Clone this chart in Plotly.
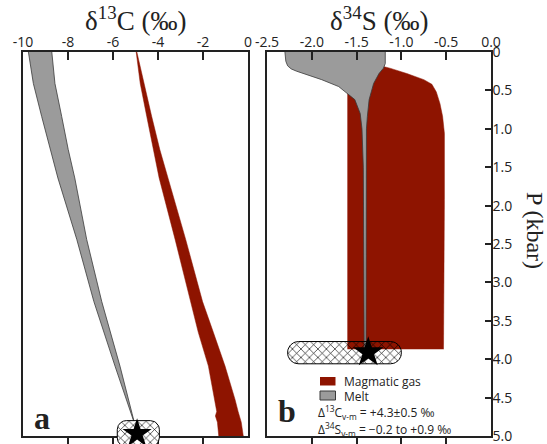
import math
import plotly.graph_objects as go

# ---------------- data ----------------
# Panel a: delta13C (permil) vs pressure (kbar)
a_melt_P = [0.0, 0.41, 0.84, 1.27, 1.64, 2.44, 3.25, 4.09, 4.71, 4.85]
a_melt_left = [-9.76, -9.54, -9.17, -8.80, -8.45, -7.61, -6.85, -5.91, -5.20, -5.06]
a_melt_right = [-8.72, -8.58, -8.28, -7.99, -7.70, -7.17, -6.50, -5.69, -5.15, -5.03]

a_gas_P = [0.0, 0.41, 0.84, 1.27, 1.64, 2.44, 3.25, 3.65, 4.09, 4.52, 4.68, 4.74, 4.82, 5.0]
a_gas_left = [-4.97, -4.79, -4.50, -4.21, -3.95, -3.24, -2.55, -2.21, -1.76, -1.47, -1.39, -1.45, -1.36, -1.30]
a_gas_right = [-4.94, -4.63, -4.28, -3.92, -3.58, -2.77, -2.02, -1.54, -1.02, -0.58, -0.44, -0.40, -0.30, -0.21]

a_star = (-4.93, 4.97)
a_box = (-5.81, -3.94, 4.80, 5.14)

# Panel b: delta34S (permil) vs pressure (kbar)
b_melt_left_P = [0.0, 0.12, 0.18, 0.22, 0.25, 0.28, 0.36, 0.45, 0.54, 0.62, 0.80, 1.00, 1.50, 3.90]
b_melt_left = [-2.30, -2.29, -2.27, -2.23, -2.17, -2.09, -1.89, -1.70, -1.60, -1.52, -1.46, -1.44, -1.425, -1.415]
b_melt_right_P = [3.90, 1.50, 1.00, 0.84, 0.62, 0.41, 0.28, 0.21, 0.15, 0.0]
b_melt_right = [-1.395, -1.395, -1.39, -1.38, -1.36, -1.31, -1.25, -1.20, -1.18, -1.18]

b_gas_P = [3.87, 0.54, 0.35, 0.18, 0.19, 0.21, 0.28, 0.36, 0.42, 0.52, 0.67, 0.84, 1.06, 1.92, 3.87]
b_gas_x = [-1.60, -1.60, -1.45, -1.28, -1.20, -1.13, -0.94, -0.75, -0.66, -0.61, -0.57, -0.54, -0.52, -0.52, -0.53]

b_star = (-1.37, 3.91)
b_box = (-2.27, -1.00, 3.77, 4.06)

a_ticks = [-10, -8, -6, -4, -2, 0]
a_ticktext = ["-10", "-8", "-6", "-4", "-2", "0"]
b_ticks = [-2.5, -2.0, -1.5, -1.0, -0.5, 0.0]
b_ticktext = ["-2.5", "-2.0", "-1.5", "-1.0", "-0.5", "0.0"]
p_ticks = [0, 0.5, 1.0, 1.5, 2.0, 2.5, 3.0, 3.5, 4.0, 4.5, 5.0]
p_ticktext = ["0", "0.5", "1.0", "1.5", "2.0", "2.5", "3.0", "3.5", "4.0", "4.5", "5.0"]

legend_names = ["Magmatic gas", "Melt"]
note_lines = ["Δ<sup>13</sup>C<sub>v-m</sub> = +4.3±0.5 ‰",
              "Δ<sup>34</sup>S<sub>v-m</sub> = −0.2 to +0.9 ‰"]

# ---------------- geometry ----------------
W, H = 547, 444
ML, MR, MT, MB = 23, 56, 52, 0
PW, PH = W - ML - MR, H - MT - MB
A_X0, A_X1 = 23, 248
B_X0, B_X1 = 267, 491
Y_BOT = 436  # pixel of P = 5
PX_PER_KBAR = (Y_BOT - MT) / 5.0
EXT_MAX = 5 + (H - Y_BOT) / PX_PER_KBAR


def fx(px):
    return (px - ML) / PW


def fy(py):
    return (H - py) / PH


RED = "#8E1400"
GRAY = "#9B9B9B"
EDGE = "#3a3a3a"
INK = "#222222"


def pill(box, ux, uy, rad_px, n=10):
    x0, x1, y0, y1 = box
    rx = rad_px / ux
    ry = rad_px / uy
    pts = []
    corners = [(x1 - rx, y0 + ry, -90), (x1 - rx, y1 - ry, 0),
               (x0 + rx, y1 - ry, 90), (x0 + rx, y0 + ry, 180)]
    for cx, cy, a0 in corners:
        for k in range(n + 1):
            t = math.radians(a0 + 90 * k / n)
            pts.append((cx + rx * math.cos(t), cy + ry * math.sin(t)))
    pts.append(pts[0])
    return [p[0] for p in pts], [p[1] for p in pts]


fig = go.Figure()

# panel a
fig.add_trace(go.Scatter(x=a_gas_left + a_gas_right[::-1], y=a_gas_P + a_gas_P[::-1],
                         fill="toself", fillcolor=RED, line=dict(color=RED, width=0.5),
                         mode="lines", xaxis="x", yaxis="y", hoverinfo="skip"))
fig.add_trace(go.Scatter(x=a_melt_left + a_melt_right[::-1], y=a_melt_P + a_melt_P[::-1],
                         fill="toself", fillcolor=GRAY, line=dict(color=EDGE, width=0.8),
                         mode="lines", xaxis="x", yaxis="y", hoverinfo="skip"))

# panel b
fig.add_trace(go.Scatter(x=b_gas_x, y=b_gas_P, fill="toself", fillcolor=RED,
                         line=dict(color=RED, width=0.5), mode="lines",
                         xaxis="x2", yaxis="y2", hoverinfo="skip"))
fig.add_trace(go.Scatter(x=b_melt_left + b_melt_right, y=b_melt_left_P + b_melt_right_P,
                         fill="toself", fillcolor=GRAY, line=dict(color=EDGE, width=0.8),
                         mode="lines", xaxis="x2", yaxis="y2", hoverinfo="skip"))
bx, by = pill(b_box, (B_X1 - B_X0) / 2.5, PX_PER_KBAR, 11)
fig.add_trace(go.Scatter(x=bx, y=by, fill="toself", fillcolor="rgba(0,0,0,0)",
                         fillpattern=dict(shape="x", fgcolor="black", bgcolor="rgba(0,0,0,0)",
                                          size=6, solidity=0.2),
                         line=dict(color="black", width=1), mode="lines",
                         xaxis="x2", yaxis="y2", hoverinfo="skip"))
fig.add_trace(go.Scatter(x=[b_star[0]], y=[b_star[1]], mode="markers",
                         marker=dict(symbol="star", size=23, color="black"),
                         cliponaxis=False, xaxis="x2", yaxis="y2", hoverinfo="skip"))

# bottom tick overlays
fig.add_trace(go.Scatter(x=[], y=[], xaxis="x3", yaxis="y"))
fig.add_trace(go.Scatter(x=[], y=[], xaxis="x4", yaxis="y2"))

# panel a box and star (extended axes so they can pass the frame)
ax_, ay_ = pill(a_box, (A_X1 - A_X0) / 10.0, PX_PER_KBAR, 9)
fig.add_trace(go.Scatter(x=ax_, y=ay_, fill="toself", fillcolor="white",
                         fillpattern=dict(shape="x", fgcolor="black", bgcolor="white",
                                          size=6, solidity=0.2),
                         line=dict(color="black", width=1), mode="lines",
                         xaxis="x5", yaxis="y5", hoverinfo="skip"))
fig.add_trace(go.Scatter(x=[a_star[0]], y=[a_star[1]], mode="markers",
                         marker=dict(symbol="star", size=22, color="black"),
                         cliponaxis=False, xaxis="x5", yaxis="y5", hoverinfo="skip"))

tickfont = dict(family="Open Sans", size=14, color=INK)
common = dict(showgrid=False, zeroline=False, showline=True, linecolor=INK, linewidth=1.5,
              mirror=True, tickcolor=INK, tickwidth=1.5, ticklabeloverflow="allow")
dom_a = [fx(A_X0), fx(A_X1)]
dom_b = [fx(B_X0), fx(B_X1)]
dom_y = [fy(Y_BOT), 1]

fig.update_layout(
    width=W, height=H, margin=dict(l=ML, r=MR, t=MT, b=MB),
    template="none", paper_bgcolor="white", plot_bgcolor="rgba(0,0,0,0)",
    showlegend=False,
    xaxis=dict(domain=dom_a, range=[-10, 0], side="top", anchor="y", tickvals=a_ticks,
               ticktext=a_ticktext, ticks="inside", ticklen=8, tickfont=tickfont,
               ticklabelstandoff=-2, **common),
    yaxis=dict(domain=dom_y, range=[5, 0], anchor="x", ticks="", showticklabels=False, **common),
    xaxis2=dict(domain=dom_b, range=[-2.5, 0], side="top", anchor="y2", tickvals=b_ticks,
                ticktext=b_ticktext, ticks="inside", ticklen=8, tickfont=tickfont,
                ticklabelstandoff=-2, **common),
    yaxis2=dict(domain=dom_y, range=[5, 0], anchor="x2", side="right", tickvals=p_ticks,
                ticktext=p_ticktext, ticks="inside", ticklen=6, tickfont=tickfont,
                ticklabelstandoff=-3, **common),
    xaxis3=dict(overlaying="x", side="bottom", anchor="y", range=[-10, 0],
                tickvals=a_ticks[1:-1], ticks="outside", ticklen=7, tickwidth=1.5,
                tickcolor=INK, showticklabels=False, showline=False, showgrid=False,
                zeroline=False),
    xaxis4=dict(overlaying="x2", side="bottom", anchor="y2", range=[-2.5, 0],
                tickvals=b_ticks[1:-1], ticks="outside", ticklen=7, tickwidth=1.5,
                tickcolor=INK, showticklabels=False, showline=False, showgrid=False,
                zeroline=False),
    xaxis5=dict(domain=dom_a, range=[-10, 0], anchor="y5", visible=False),
    yaxis5=dict(domain=[0, 1], range=[EXT_MAX, 0], anchor="x5", visible=False),
)

serif = "Liberation Serif"
ann = []
ann.append(dict(text="δ<sup>13</sup>C (‰)", x=fx((A_X0 + A_X1) / 2), y=fy(19),
                font=dict(family=serif, size=27, color=INK)))
ann.append(dict(text="δ<sup>34</sup>S (‰)", x=fx((B_X0 + B_X1) / 2), y=fy(19),
                font=dict(family=serif, size=27, color=INK)))
ann.append(dict(text="P (kbar)", x=fx(535), y=fy(230), textangle=90,
                font=dict(family=serif, size=24, color=INK)))
ann.append(dict(text="<b>a</b>", x=fx(42), y=fy(418),
                font=dict(family=serif, size=32, color=INK)))
ann.append(dict(text="<b>b</b>", x=fx(287), y=fy(411),
                font=dict(family=serif, size=32, color=INK)))
small = dict(family="Open Sans", size=12, color=INK)
ann.append(dict(text=legend_names[0], x=fx(342), y=fy(381.5), xanchor="left", font=small))
ann.append(dict(text=legend_names[1], x=fx(342), y=fy(396), xanchor="left", font=small))
ann.append(dict(text=note_lines[0], x=fx(316), y=fy(412), xanchor="left", font=small))
ann.append(dict(text=note_lines[1], x=fx(316), y=fy(429), xanchor="left", font=small))
for a in ann:
    a.setdefault("xanchor", "center")
    a.update(xref="paper", yref="paper", yanchor="middle", showarrow=False)
fig.update_layout(annotations=ann)

fig.update_layout(shapes=[
    dict(type="rect", xref="paper", yref="paper", x0=fx(320), x1=fx(335.5), y0=fy(385.5),
         y1=fy(377), fillcolor=RED, line=dict(width=0)),
    dict(type="rect", xref="paper", yref="paper", x0=fx(320), x1=fx(335.5), y0=fy(400),
         y1=fy(391), fillcolor=GRAY, line=dict(color=EDGE, width=1)),
])

fig.write_html("out.html")
